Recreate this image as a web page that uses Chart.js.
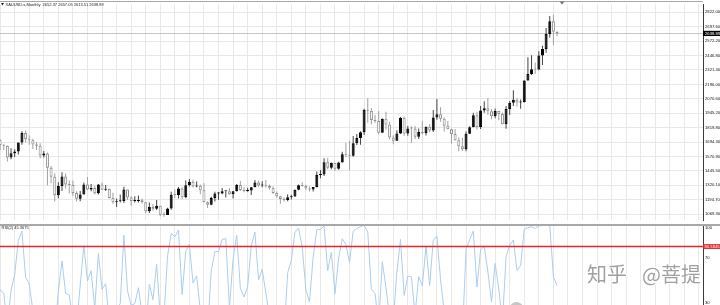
<!DOCTYPE html>
<html>
<head>
<meta charset="utf-8">
<script src="https://cdn.jsdelivr.net/npm/chart.js@4.4.1/dist/chart.umd.min.js"></script>
<style>
  html, body { margin: 0; padding: 0; background: #fff; }
  #wrap { position: relative; width: 720px; height: 305px; overflow: hidden; }
  #price { position: absolute; left: 0; top: 0; }
  #rsi { position: absolute; left: 0; top: 225px; }
</style>
</head>
<body>
<div id="wrap">
  <canvas id="price" width="720" height="225"></canvas>
  <canvas id="rsi" width="720" height="80"></canvas>
</div>
<script>
// XAUUSD monthly, Mar 2012 .. Dec 2024 (one row per year)
const startYear = 2012, startMonth = 3;

const opens = [
  1711, 1669, 1664, 1561, 1598, 1614, 1691, 1773, 1719, 1711,
  1675, 1663, 1578, 1595, 1472, 1393, 1234, 1313, 1396, 1327, 1323, 1253,
  1202, 1240, 1326, 1284, 1296, 1250, 1327, 1282, 1287, 1210, 1172, 1182,
  1184, 1283, 1213, 1183, 1184, 1190, 1172, 1095, 1133, 1115, 1142, 1065,
  1061, 1118, 1238, 1235, 1293, 1215, 1321, 1351, 1309, 1316, 1277, 1173,
  1151, 1210, 1249, 1249, 1268, 1269, 1242, 1269, 1322, 1280, 1271, 1275,
  1303, 1345, 1318, 1325, 1315, 1299, 1253, 1224, 1201, 1192, 1215, 1222,
  1282, 1321, 1313, 1292, 1284, 1305, 1409, 1413, 1520, 1472, 1513, 1464,
  1517, 1589, 1585, 1577, 1686, 1730, 1781, 1975, 1967, 1886, 1879, 1776,
  1898, 1847, 1734, 1707, 1769, 1906, 1770, 1814, 1813, 1742, 1783, 1774,
  1829, 1796, 1909, 1937, 1897, 1837, 1807, 1766, 1711, 1660, 1633, 1768,
  1824, 1928, 1827, 1969, 1990, 1962, 1919, 1965, 1940, 1849, 1983, 2036,
  2063, 2039, 2044, 2230, 2286, 2327, 2326, 2447, 2503, 2634, 2744, 2652.37
];
const highs = [
  1719, 1677, 1666, 1642, 1633, 1692, 1790, 1796, 1755, 1723,
  1695, 1684, 1617, 1605, 1488, 1424, 1347, 1434, 1424, 1361, 1362, 1267,
  1270, 1345, 1392, 1332, 1315, 1332, 1345, 1323, 1291, 1255, 1205, 1239,
  1308, 1284, 1224, 1225, 1232, 1205, 1175, 1170, 1157, 1191, 1143, 1088,
  1125, 1263, 1283, 1304, 1303, 1362, 1375, 1367, 1353, 1326, 1338, 1181,
  1220, 1264, 1262, 1296, 1270, 1296, 1270, 1331, 1358, 1306, 1299, 1306,
  1366, 1361, 1356, 1365, 1326, 1309, 1266, 1228, 1214, 1243, 1237, 1284,
  1326, 1346, 1324, 1310, 1306, 1439, 1453, 1555, 1557, 1517, 1515, 1525,
  1611, 1689, 1704, 1747, 1765, 1789, 1984, 2075, 1992, 1933, 1966, 1900,
  1959, 1872, 1755, 1798, 1913, 1917, 1834, 1832, 1834, 1814, 1877, 1831,
  1853, 1974, 2070, 1998, 1910, 1879, 1814, 1808, 1735, 1730, 1786, 1833,
  1949, 1959, 2009, 2049, 2079, 1983, 1987, 1966, 1953, 2009, 2052, 2146,
  2079, 2065, 2233, 2431, 2450, 2387, 2483, 2531, 2685, 2790, 2801, 2657.09
];
const lows = [
  1627, 1627, 1527, 1547, 1565, 1588, 1672, 1692, 1673, 1636,
  1626, 1555, 1562, 1321, 1338, 1180, 1207, 1271, 1292, 1251, 1227, 1180,
  1182, 1239, 1277, 1268, 1240, 1240, 1280, 1273, 1206, 1160, 1131, 1170,
  1167, 1191, 1142, 1170, 1170, 1162, 1077, 1080, 1098, 1106, 1052, 1046,
  1061, 1107, 1208, 1206, 1199, 1207, 1310, 1301, 1303, 1241, 1171, 1123,
  1146, 1180, 1195, 1243, 1214, 1237, 1205, 1266, 1272, 1260, 1264, 1236,
  1302, 1307, 1303, 1301, 1282, 1246, 1211, 1160, 1180, 1182, 1196, 1221,
  1276, 1310, 1281, 1266, 1266, 1300, 1382, 1400, 1459, 1459, 1445, 1454,
  1517, 1563, 1451, 1568, 1670, 1671, 1757, 1863, 1849, 1860, 1765, 1776,
  1802, 1717, 1677, 1705, 1766, 1751, 1750, 1688, 1721, 1722, 1758, 1753,
  1780, 1782, 1890, 1872, 1787, 1805, 1681, 1709, 1615, 1617, 1616, 1765,
  1823, 1804, 1809, 1950, 1932, 1893, 1903, 1885, 1849, 1810, 1931, 2009,
  2001, 1984, 2039, 2228, 2277, 2286, 2319, 2364, 2471, 2604, 2536, 2613.51
];
const closes = [
  1669, 1664, 1561, 1598, 1614, 1691, 1773, 1719, 1711, 1675,
  1663, 1578, 1595, 1472, 1393, 1234, 1313, 1396, 1327, 1323, 1253, 1202,
  1240, 1326, 1284, 1296, 1250, 1327, 1282, 1287, 1210, 1172, 1182, 1184,
  1283, 1213, 1183, 1184, 1190, 1172, 1095, 1133, 1115, 1142, 1065, 1061,
  1118, 1238, 1235, 1293, 1215, 1321, 1351, 1309, 1316, 1277, 1173, 1151,
  1210, 1249, 1249, 1268, 1269, 1242, 1269, 1322, 1280, 1271, 1275, 1303,
  1345, 1318, 1325, 1315, 1299, 1253, 1224, 1201, 1192, 1215, 1222, 1282,
  1321, 1313, 1292, 1284, 1305, 1409, 1413, 1520, 1472, 1513, 1464, 1517,
  1589, 1585, 1577, 1686, 1730, 1781, 1975, 1967, 1886, 1879, 1776, 1898,
  1847, 1734, 1707, 1769, 1906, 1770, 1814, 1813, 1742, 1783, 1774, 1829,
  1796, 1909, 1937, 1897, 1837, 1807, 1766, 1711, 1660, 1633, 1768, 1824,
  1928, 1827, 1969, 1990, 1962, 1919, 1965, 1940, 1849, 1983, 2036, 2063,
  2039, 2044, 2230, 2286, 2327, 2326, 2447, 2503, 2634, 2744, 2653, 2638.89
];
const rsiValues = [
  41.7, 38.5, 9.2, 41.3, 55.0, 86.2, 94.4, 52.9, 46.8, 23.0,
  17.2, 3.7, 26.6, 6.0, 3.0, 1.0, 40.5, 67.6, 38.5, 36.7, 13.7, 7.2,
  45.7, 81.2, 49.6, 58.8, 24.6, 74.4, 42.0, 47.0, 12.7, 7.3, 24.2, 29.1,
  90.8, 40.7, 27.6, 29.1, 43.5, 19.7, 3.4, 46.7, 32.6, 64.6, 17.5, 16.2,
  72.1, 92.7, 89.3, 95.6, 37.4, 76.4, 82.6, 47.7, 54.2, 22.8, 5.6, 4.2,
  58.4, 76.1, 76.1, 87.0, 87.7, 25.3, 69.1, 90.7, 43.1, 35.1, 44.3, 81.2,
  93.7, 50.5, 60.1, 38.8, 18.0, 4.5, 2.3, 1.3, 1.0, 57.0, 67.9, 94.0,
  97.1, 80.2, 41.8, 30.7, 71.1, 95.7, 96.0, 99.1, 58.7, 75.6, 38.2, 70.2,
  87.6, 82.3, 66.2, 94.7, 96.9, 98.4, 99.7, 93.6, 41.9, 38.3, 10.8, 67.0,
  43.8, 17.3, 13.5, 57.4, 86.9, 36.6, 53.9, 53.2, 19.5, 53.5, 45.1, 81.1,
  45.4, 86.4, 90.1, 50.7, 21.9, 14.0, 7.0, 3.0, 1.5, 0.9, 78.1, 86.7,
  94.6, 44.0, 77.6, 81.0, 57.8, 30.7, 65.4, 42.3, 11.9, 71.7, 81.7, 86.4,
  58.9, 63.7, 96.2, 97.6, 98.4, 96.8, 99.3, 99.6, 99.9, 99.9, 53.3, 45.37
];

const priceTicks = [2822.00, 2697.60, 2572.20, 2446.80, 2321.40, 2196.00, 2070.60, 1945.20,
                    1819.80, 1694.30, 1570.90, 1445.50, 1320.10, 1194.70, 1069.30];
const rsiTicks = [100, 70, 30];
const rsiLevel = 80.5845;
const bid = 2638.89;
const titleText = 'XAUUSD.s,Monthly  2652.37 2657.09 2613.51 2638.89';
const rsiText = 'RSI(2) 45.3675';

const months = opens.map((_, i) => {
  const m = startMonth - 1 + i;
  return (startYear + Math.floor(m / 12)) + '-' + String(m % 12 + 1).padStart(2, '0');
});

const FONT = '"Liberation Sans", "DejaVu Sans", sans-serif';
const GRID = '#e8e8e8';
const AXIS = 17;

// shared time axis: bar index, grid every 4 months, right side left empty (chart shift)
function timeAxis() {
  return {
    type: 'linear', min: -0.03, max: 193.1, offset: false,
    grid: { color: GRID, drawTicks: false, offset: false },
    border: { display: false },
    ticks: { display: false },
    afterBuildTicks: s => {
      const t = [];
      for (let v = 0; v <= 192; v += 4) t.push({ value: v });
      s.ticks = t;
    },
    afterFit: s => { s.height = 0; }
  };
}

const up = closes.map((c, i) => c >= opens[i]);

const priceDecor = {
  id: 'priceDecor',
  beforeDatasetsDraw(chart) {
    const { ctx, chartArea: a, scales: { y } } = chart;
    const yb = Math.round(y.getPixelForValue(bid)) + 0.5;
    ctx.save();
    ctx.strokeStyle = '#c6c6c6';
    ctx.lineWidth = 1;
    ctx.beginPath(); ctx.moveTo(a.left, yb); ctx.lineTo(a.right, yb); ctx.stroke();
    ctx.restore();
  },
  afterDraw(chart) {
    const { ctx, chartArea: a, scales: { y } } = chart;
    ctx.save();
    ctx.strokeStyle = '#a8a8a8';
    ctx.lineWidth = 1;
    ctx.beginPath();
    ctx.moveTo(0, 1.5); ctx.lineTo(a.right, 1.5);
    ctx.moveTo(0, 224.5); ctx.lineTo(720, 224.5);
    ctx.stroke();

    // bid price box on the axis
    const yb = y.getPixelForValue(bid);
    ctx.fillStyle = '#000';
    ctx.fillRect(a.right, yb - 2.6, AXIS, 5.2);
    ctx.fillStyle = '#fff';
    ctx.font = '4.2px ' + FONT;
    ctx.textBaseline = 'middle';
    ctx.fillText(bid.toFixed(2), a.right + 2, yb);

    // shift marker
    ctx.fillStyle = '#777';
    ctx.beginPath(); ctx.moveTo(559.5, 1.5); ctx.lineTo(564.5, 1.5); ctx.lineTo(562, 4.5); ctx.fill();

    // title
    ctx.fillStyle = '#222';
    ctx.beginPath(); ctx.moveTo(1, 3); ctx.lineTo(4, 3); ctx.lineTo(2.5, 5.5); ctx.fill();
    ctx.font = '4px ' + FONT;
    ctx.fillText(titleText, 5.5, 4.6);
    ctx.restore();
  }
};

new Chart(document.getElementById('price'), {
  type: 'bar',
  data: {
    labels: months,
    datasets: [
      {
        label: 'body',
        data: closes.map((c, i) => ({ x: i, y: [opens[i], c] })),
        backgroundColor: up.map(u => u ? '#000' : '#fff'),
        borderColor: up.map(u => u ? '#000' : '#8f8f8f'),
        borderWidth: 1,
        borderSkipped: false,
        barThickness: 3,
        minBarLength: 1,
        grouped: false,
        inflateAmount: 0
      },
      {
        label: 'wick',
        data: highs.map((h, i) => ({ x: i, y: [lows[i], h] })),
        backgroundColor: up.map(u => u ? '#444' : '#a0a0a0'),
        borderWidth: 0,
        barThickness: 1,
        grouped: false,
        inflateAmount: 0
      }
    ]
  },
  options: {
    responsive: false,
    animation: false,
    devicePixelRatio: 1,
    events: [],
    layout: { padding: { top: 2, bottom: 2, left: 0, right: 0 } },
    plugins: { legend: { display: false }, tooltip: { enabled: false } },
    scales: {
      x: timeAxis(),
      y: {
        position: 'right', min: 1014.2, max: 2889.9, beginAtZero: false,
        grid: { color: GRID, drawTicks: false },
        border: { display: true, color: '#3a3a3a' },
        ticks: {
          color: '#111', padding: 2, autoSkip: false,
          font: { size: 4.2, family: FONT },
          callback: v => Number(v).toFixed(2)
        },
        afterBuildTicks: s => { s.ticks = priceTicks.map(v => ({ value: v })); },
        afterFit: s => { s.width = AXIS; }
      }
    }
  },
  plugins: [priceDecor]
});

const rsiDecor = {
  id: 'rsiDecor',
  afterDatasetsDraw(chart) {
    const { ctx, chartArea: a, scales: { y } } = chart;
    const yl = y.getPixelForValue(rsiLevel);
    ctx.save();
    ctx.strokeStyle = '#e3262b';
    ctx.lineWidth = 1.6;
    ctx.beginPath(); ctx.moveTo(a.left, yl); ctx.lineTo(a.right, yl); ctx.stroke();
    ctx.restore();
  },
  afterDraw(chart) {
    const { ctx, chartArea: a, scales: { y } } = chart;
    ctx.save();
    ctx.strokeStyle = '#a8a8a8';
    ctx.lineWidth = 1;
    ctx.beginPath(); ctx.moveTo(0, 0.5); ctx.lineTo(720, 0.5); ctx.stroke();

    ctx.font = '4.2px ' + FONT;
    ctx.textBaseline = 'middle';
    ctx.fillStyle = '#111';
    rsiTicks.forEach(v => {
      const py = v === 100 ? 2.8 : y.getPixelForValue(v);
      ctx.fillText(String(v), a.right + 2, py);
    });

    const yl = y.getPixelForValue(rsiLevel);
    ctx.fillStyle = '#e3262b';
    ctx.fillRect(a.right, yl - 2.4, AXIS, 4.8);
    ctx.fillStyle = '#fff';
    ctx.fillText(rsiLevel.toFixed(4), a.right + 1.5, yl);

    ctx.fillStyle = '#222';
    ctx.font = '4px ' + FONT;
    ctx.fillText(rsiText, 1.5, 3.2);

    // watermark
    ctx.font = '20px "Noto Sans CJK SC"';
    ctx.textBaseline = 'alphabetic';
    ctx.lineWidth = 2;
    ctx.strokeStyle = 'rgba(255,255,255,0.8)';
    ctx.fillStyle = 'rgba(128,128,128,0.75)';
    [['知乎', 587], ['@菩提', 642]].forEach(([t, x]) => {
      ctx.strokeText(t, x, 57);
      ctx.fillText(t, x, 57);
    });
    ctx.fillStyle = 'rgba(160,160,160,0.6)';
    ctx.beginPath(); ctx.arc(516.5, 84, 7, 0, Math.PI * 2); ctx.fill();
    ctx.restore();
  }
};

new Chart(document.getElementById('rsi'), {
  type: 'line',
  data: {
    labels: months,
    datasets: [{
      label: 'RSI(2)',
      data: rsiValues.map((v, i) => ({ x: i, y: v })),
      borderColor: '#abcdee',
      borderWidth: 1,
      pointRadius: 0,
      tension: 0,
      fill: false
    }]
  },
  options: {
    responsive: false,
    animation: false,
    devicePixelRatio: 1,
    events: [],
    layout: { padding: 0 },
    plugins: { legend: { display: false }, tooltip: { enabled: false } },
    scales: {
      x: timeAxis(),
      y: {
        position: 'right', min: 27.9, max: 100,
        grid: { display: false },
        border: { display: true, color: '#3a3a3a' },
        ticks: { display: false },
        afterFit: s => { s.width = AXIS; }
      }
    }
  },
  plugins: [rsiDecor]
});
</script>
</body>
</html>
